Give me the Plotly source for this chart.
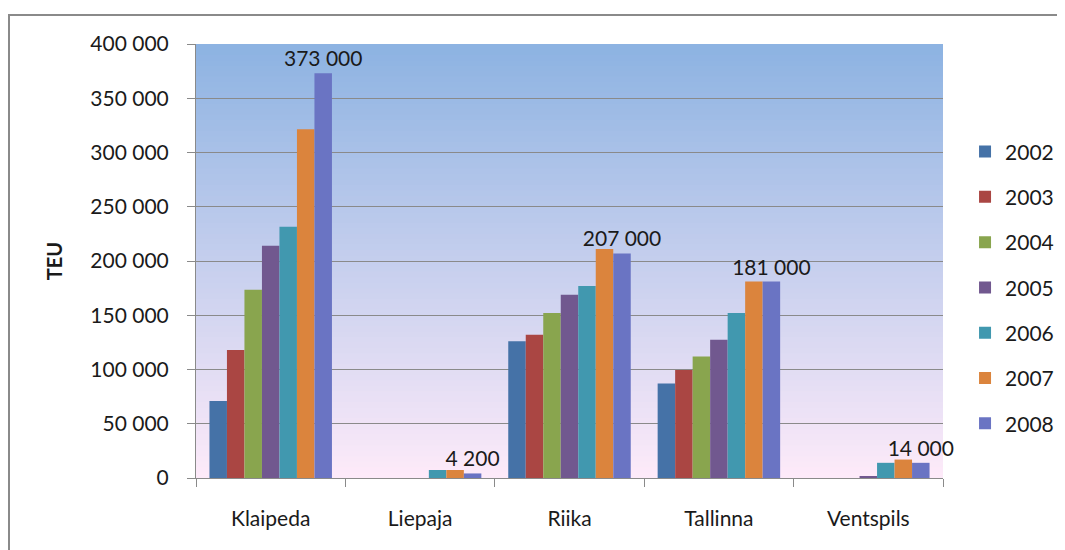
import plotly.graph_objects as go

ports = ['Klaipeda', 'Liepaja', 'Riika', 'Tallinna', 'Ventspils']
years = ['2002', '2003', '2004', '2005', '2006', '2007', '2008']

teu_2002 = [71000, 0, 126000, 87000, 0]
teu_2003 = [118000, 0, 132000, 99500, 0]
teu_2004 = [173500, 0, 152000, 112000, 0]
teu_2005 = [214000, 0, 169000, 127500, 1200]
teu_2006 = [231500, 7400, 177000, 152000, 14000]
teu_2007 = [321500, 7400, 211000, 181000, 17000]
teu_2008 = [373000, 4200, 207000, 181000, 14000]

series = [teu_2002, teu_2003, teu_2004, teu_2005, teu_2006, teu_2007, teu_2008]
colors = ['#4572A7', '#AA4643', '#89A54E', '#71588F', '#4198AF', '#DB843D', '#6A74C3']

FONT = 'Lato'

fig = go.Figure()
for year, vals, col in zip(years, series, colors):
    bar = dict(x=ports, y=vals, name=year, marker_color=col, marker_line_width=0,
               legendgroup=year, cliponaxis=False)
    # only the last year carries data labels
    if year == '2008':
        bar.update(texttemplate='%{y:,d}', textposition='outside', constraintext='none',
                   textfont=dict(family=FONT, size=21, color='#1a1a1a'))
    fig.add_trace(go.Bar(**bar))

# vertical gradient for the plot area (blue at top -> pink at bottom)
top = (141, 179, 226)
bot = (253, 234, 249)
n = 80
shapes = []
for i in range(n):
    t = i / (n - 1)
    c = tuple(round(top[k] + (bot[k] - top[k]) * t) for k in range(3))
    shapes.append(dict(type='rect', xref='paper', yref='paper', layer='below',
                       x0=0, x1=1, y0=1 - (i + 1) / n - 0.002, y1=1 - i / n,
                       fillcolor='rgb(%d,%d,%d)' % c, line_width=0))

# outer chart frame (only left/top visible in the crop)
shapes.append(dict(type='rect', xref='paper', yref='paper', layer='below',
                   x0=(9 - 196) / 747, x1=(1080 - 196) / 747,
                   y0=-0.3, y1=(478 - 15) / 434,
                   line=dict(color='#8a8a8a', width=2), fillcolor='rgba(0,0,0,0)'))

# page body has an 8px margin, so the figure is drawn 8px smaller / shifted
fig.update_layout(
    width=1057, height=542,
    margin=dict(l=188, r=122, t=36, b=72, autoexpand=False),
    paper_bgcolor='white', plot_bgcolor='rgba(0,0,0,0)',
    separators=', ',
    barmode='group', bargap=0.18, bargroupgap=0,
    font=dict(family=FONT, size=21, color='#1a1a1a'),
    shapes=shapes,
    legend=dict(x=1.0295, xanchor='left', y=0.438, yanchor='middle',
                tracegroupgap=15, font=dict(family=FONT, size=21, color='#1a1a1a'),
                bgcolor='rgba(0,0,0,0)'),
)

fig.update_yaxes(range=[0, 400000], dtick=50000, tickformat=',d', automargin=False,
                 showgrid=True, gridcolor='#8a8a8a', gridwidth=1,
                 showline=True, linecolor='#8a8a8a', linewidth=1,
                 ticks='outside', ticklen=8, tickcolor='#8a8a8a',
                 ticklabelstandoff=14, zeroline=False,
                 title=dict(text='<b>TEU</b>', font=dict(family=FONT, size=20, color='#1a1a1a'),
                            standoff=22))
fig.update_xaxes(showline=True, linecolor='#8a8a8a', linewidth=1, automargin=False,
                 ticks='outside', tickson='boundaries', ticklen=8, tickcolor='#8a8a8a',
                 ticklabelstandoff=22)

fig.write_html('out.html')
